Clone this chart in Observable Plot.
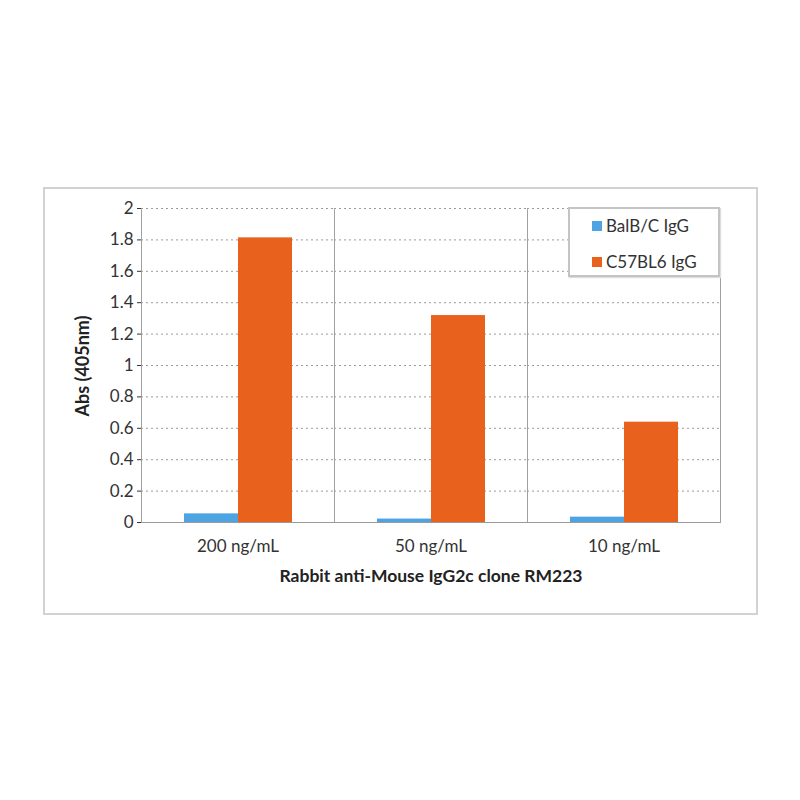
<!DOCTYPE html>
<html>
<head>
<meta charset="utf-8">
<script src="https://cdn.jsdelivr.net/npm/d3@7"></script>
<script src="https://cdn.jsdelivr.net/npm/@observablehq/plot@0.6"></script>
<style>
  html, body { margin: 0; padding: 0; background: #fff; }
  #wrap { position: relative; width: 800px; height: 800px; font-family: Lato, "Open Sans", sans-serif; }
  #outer { position: absolute; left: 43px; top: 187px; width: 711px; height: 424px; border: 2px solid #d2d2d2; box-sizing: content-box; }
  #chart { position: absolute; left: 0; top: 0; }
  #legend { position: absolute; left: 568px; top: 207px; width: 148px; height: 66px; border: 2px solid #c4c4c4; background: #fff; box-shadow: 1px 1px 1px #ddd; font-size: 17px; color: #333; }
  .item { position: absolute; left: 22px; display: flex; align-items: center; }
  .sw { width: 10px; height: 10px; margin-right: 4px; }
</style>
</head>
<body>
<div id="wrap">
  <div id="outer"></div>
  <div id="chart"></div>
  <div id="legend"></div>
</div>
<script>
const categories = ["200 ng/mL", "50 ng/mL", "10 ng/mL"];
const seriesNames = ["BalB/C IgG", "C57BL6 IgG"];
const balbValues = [0.055, 0.022, 0.034];
const c57Values = [1.813, 1.318, 0.639];
const yTicks = [0, 0.2, 0.4, 0.6, 0.8, 1, 1.2, 1.4, 1.6, 1.8, 2];
const colors = ["#4ea3e2", "#e8611d"];

const rows = [];
categories.forEach((c, i) => {
  rows.push({category: c, series: seriesNames[0], value: balbValues[i]});
  rows.push({category: c, series: seriesNames[1], value: c57Values[i]});
});

const plot = Plot.plot({
  width: 800,
  height: 800,
  marginLeft: 140,
  marginRight: 80,
  marginTop: 208,
  marginBottom: 278,
  style: {fontFamily: "Lato, 'Open Sans', sans-serif", fontSize: "17px", color: "#333", background: "transparent"},
  fx: {domain: categories, padding: 0, label: null, tickSize: 0, tickPadding: 17},
  x: {domain: seriesNames, paddingInner: 0, paddingOuter: 0.77, axis: null},
  y: {domain: [0, 2], ticks: yTicks, tickFormat: d => String(Math.round(d * 10) / 10), label: null, tickSize: 4, tickPadding: 4},
  color: {domain: seriesNames, range: colors},
  marks: [
    Plot.frame({stroke: "#a0a0a0", strokeWidth: 1}),
    Plot.ruleY([2], {stroke: "#fff", strokeWidth: 1.5}),
    Plot.gridY(yTicks, {stroke: "#9a9a9a", strokeOpacity: 1, strokeDasharray: "2,3"}),
    Plot.barY(rows, {fx: "category", x: "series", y: "value", fill: "series"}),
    Plot.ruleY([0], {stroke: "#9a9a9a"})
  ]
});
document.getElementById("chart").appendChild(plot);

// axis titles as SVG text in the same svg
const svg = d3.select(plot);
svg.append("text")
  .attr("transform", "translate(84,366) rotate(-90)")
  .attr("text-anchor", "middle")
  .attr("dominant-baseline", "middle")
  .attr("font-weight", "bold")
  .attr("font-size", 18)
  .attr("fill", "#222")
  .text("Abs (405nm)");
svg.append("text")
  .attr("x", 431)
  .attr("y", 578)
  .attr("text-anchor", "middle")
  .attr("dominant-baseline", "middle")
  .attr("font-weight", "bold")
  .attr("font-size", 17.5)
  .attr("fill", "#222")
  .text("Rabbit anti-Mouse IgG2c clone RM223");

const legend = document.getElementById("legend");
seriesNames.forEach((s, i) => {
  const it = document.createElement("div");
  it.className = "item";
  it.style.top = (i === 0 ? 6 : 42) + "px";
  const sw = document.createElement("div");
  sw.className = "sw";
  sw.style.background = colors[i];
  const t = document.createElement("span");
  t.textContent = s;
  it.appendChild(sw);
  it.appendChild(t);
  legend.appendChild(it);
});
</script>
</body>
</html>
